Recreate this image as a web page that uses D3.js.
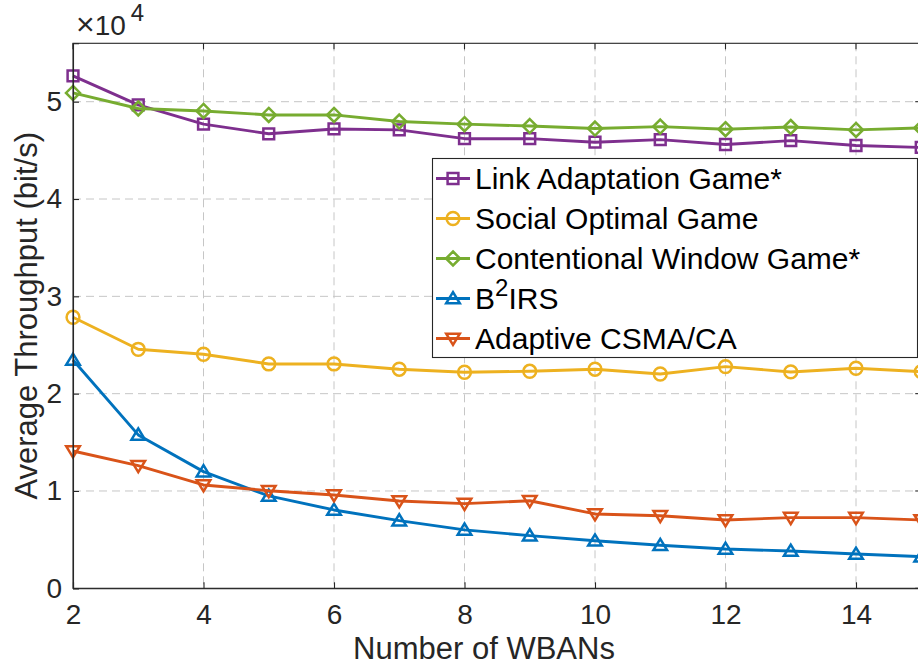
<!DOCTYPE html>
<html>
<head>
<meta charset="utf-8">
<script src="https://cdn.jsdelivr.net/npm/d3@7"></script>
<style>
	body { margin: 0; background: #fff; }
	svg { display: block; font-family: "Liberation Sans", Arial, Helvetica, sans-serif; }
</style>
</head>
<body>
<svg id="plot" width="918" height="666"></svg>
<script>
const WBANS = [2, 3, 4, 5, 6, 7, 8, 9, 10, 11, 12, 13, 14, 15];
const LINK_ADAPTATION = [52650, 49670, 47700, 46700, 47200, 47100, 46200, 46200, 45840, 46100, 45600, 46000, 45500, 45300];
const SOCIAL_OPTIMAL = [27850, 24560, 24050, 23050, 23050, 22510, 22200, 22300, 22510, 22020, 22780, 22230, 22610, 22260];
const CONTENTION_WINDOW = [50900, 49300, 49050, 48640, 48640, 47960, 47690, 47500, 47240, 47440, 47170, 47400, 47100, 47300];
const B2IRS = [23460, 15760, 11990, 9490, 8050, 6950, 6000, 5410, 4890, 4420, 4040, 3830, 3520, 3250];
const ADAPTIVE_CSMA = [14110, 12600, 10620, 10030, 9590, 8970, 8700, 9000, 7640, 7460, 7020, 7260, 7260, 7020];

const X_TICKS = [2, 4, 6, 8, 10, 12, 14];
const Y_TICKS = [0, 10000, 20000, 30000, 40000, 50000];

const SERIES = [
	{ name: 'Link Adaptation Game*', values: LINK_ADAPTATION, color: '#7E2F8E', marker: 'square' },
	{ name: 'Social Optimal Game', values: SOCIAL_OPTIMAL, color: '#EDB120', marker: 'circle' },
	{ name: 'Contentional Window Game*', values: CONTENTION_WINDOW, color: '#77AC30', marker: 'diamond' },
	{ name: 'B2IRS', values: B2IRS, color: '#0072BD', marker: 'up' },
	{ name: 'Adaptive CSMA/CA', values: ADAPTIVE_CSMA, color: '#D95319', marker: 'down' },
];

// marker outlines, MATLAB style
function markerPath(type, cx, cy) {
	if (type === 'square') {
		const s = 5.4;
		return `M${cx - s},${cy - s}H${cx + s}V${cy + s}H${cx - s}Z`;
	}
	if (type === 'diamond') {
		const s = 7;
		return `M${cx},${cy - s}L${cx + s},${cy}L${cx},${cy + s}L${cx - s},${cy}Z`;
	}
	if (type === 'up') {
		const w = 6.8, h = 6.4;
		return `M${cx},${cy - h}L${cx + w},${cy + h * 0.75}L${cx - w},${cy + h * 0.75}Z`;
	}
	if (type === 'down') {
		const w = 6.8, h = 6.4;
		return `M${cx},${cy + h}L${cx + w},${cy - h * 0.75}L${cx - w},${cy - h * 0.75}Z`;
	}
	const r = 6.4;
	return `M${cx - r},${cy}A${r},${r} 0 1,0 ${cx + r},${cy}A${r},${r} 0 1,0 ${cx - r},${cy}Z`;
}

function draw() {
	const svg = d3.select('#plot');
	const x = d3.scaleLinear().domain([2, 15]).range([73, 921.25]);
	const y = d3.scaleLinear().domain([0, 56000]).range([588.3, 43.3]);
	const left = x.range()[0], right = x.range()[1];
	const top = y.range()[1], bottom = y.range()[0];
	const axisColor = '#262626';

	// grid
	const grid = svg.append('g')
		.attr('stroke', '#c6c6c6')
		.attr('stroke-width', 1)
		.attr('stroke-dasharray', '8,5');
	grid.selectAll('line.gx')
		.data(X_TICKS.slice(1))
		.enter().append('line')
			.attr('x1', d => x(d)).attr('x2', d => x(d))
			.attr('y1', top).attr('y2', bottom);
	grid.selectAll('line.gy')
		.data(Y_TICKS.slice(1))
		.enter().append('line')
			.attr('x1', left).attr('x2', right)
			.attr('y1', d => y(d)).attr('y2', d => y(d));

	// series
	const line = d3.line()
		.x((d, i) => x(WBANS[i]))
		.y(d => y(d));
	SERIES.forEach(s => {
		const g = svg.append('g');
		g.append('path')
			.attr('d', line(s.values))
			.attr('fill', 'none')
			.attr('stroke', s.color)
			.attr('stroke-width', 2.9)
			.attr('stroke-linejoin', 'round');
		g.selectAll('path.m')
			.data(s.values)
			.enter().append('path')
				.attr('d', (d, i) => markerPath(s.marker, x(WBANS[i]), y(d)))
				.attr('fill', 'none')
				.attr('stroke', s.color)
				.attr('stroke-width', 2.5);
	});

	// axes box + ticks
	const ax = svg.append('g').attr('stroke', axisColor).attr('stroke-width', 1.1);
	ax.append('rect')
		.attr('x', left).attr('y', top)
		.attr('width', right - left).attr('height', bottom - top)
		.attr('fill', 'none');

	const xAxis = d3.axisBottom(x).tickValues(X_TICKS).tickSize(-6).tickPadding(16).tickFormat(d3.format('d'));
	const yAxis = d3.axisLeft(y).tickValues(Y_TICKS).tickSize(-6).tickPadding(11).tickFormat(d => d / 10000);
	const gx = svg.append('g').attr('transform', `translate(0,${bottom})`).call(xAxis);
	const gy = svg.append('g').attr('transform', `translate(${left},0)`).call(yAxis);
	[gx, gy].forEach(g => {
		g.select('.domain').attr('stroke', axisColor).attr('stroke-width', 1.1);
		g.selectAll('.tick line').attr('stroke', axisColor).attr('stroke-width', 1.1);
		g.selectAll('.tick text')
			.attr('fill', axisColor)
			.style('font-size', '28px')
			.style('font-family', '"Liberation Sans", Arial, Helvetica, sans-serif');
	});
	gx.selectAll('.tick text').attr('dy', '0.71em');

	// ticks on top and right sides
	ax.selectAll('line.tt')
		.data(X_TICKS)
		.enter().append('line')
			.attr('x1', d => x(d)).attr('x2', d => x(d))
			.attr('y1', top).attr('y2', top + 6);
	ax.selectAll('line.tr')
		.data(Y_TICKS)
		.enter().append('line')
			.attr('x1', right).attr('x2', right - 6)
			.attr('y1', d => y(d)).attr('y2', d => y(d));

	// exponent
	const expo = svg.append('text')
		.attr('x', 76).attr('y', 35)
		.attr('fill', axisColor)
		.style('font-size', '28px');
	expo.append('tspan').style('font-size', '32px').text('\u00d7');
	expo.append('tspan').text('10');
	expo.append('tspan').attr('dy', -14).attr('dx', 5).style('font-size', '24px').text('4');

	// axis labels
	svg.append('text')
		.attr('x', 484).attr('y', 659)
		.attr('text-anchor', 'middle')
		.attr('fill', axisColor)
		.style('font-size', '31px')
		.text('Number of WBANs');
	svg.append('text')
		.attr('transform', `translate(37,${(top + bottom) / 2}) rotate(-90)`)
		.attr('text-anchor', 'middle')
		.attr('fill', axisColor)
		.style('font-size', '31px')
		.text('Average Throughput (bit/s)');

	// legend
	const lg = svg.append('g');
	lg.append('rect')
		.attr('x', 432.5).attr('y', 158.5)
		.attr('width', 485).attr('height', 199)
		.attr('fill', '#fff')
		.attr('stroke', axisColor)
		.attr('stroke-width', 1.1);
	SERIES.forEach((s, i) => {
		const cy = 178.5 + i * 40;
		lg.append('line')
			.attr('x1', 436).attr('x2', 470)
			.attr('y1', cy).attr('y2', cy)
			.attr('stroke', s.color).attr('stroke-width', 2.9);
		lg.append('path')
			.attr('d', markerPath(s.marker, 453, cy))
			.attr('fill', 'none')
			.attr('stroke', s.color)
			.attr('stroke-width', 2.5);
		const t = lg.append('text')
			.attr('x', 475).attr('y', cy + 10.5)
			.attr('fill', '#000')
			.style('font-size', '30px');
		if (s.name === 'B2IRS') {
			t.append('tspan').text('B');
			t.append('tspan').attr('dy', -13).style('font-size', '24px').text('2');
			t.append('tspan').attr('dy', 13).text('IRS');
		} else {
			t.text(s.name);
		}
	});
}

draw();
</script>
</body>
</html>
